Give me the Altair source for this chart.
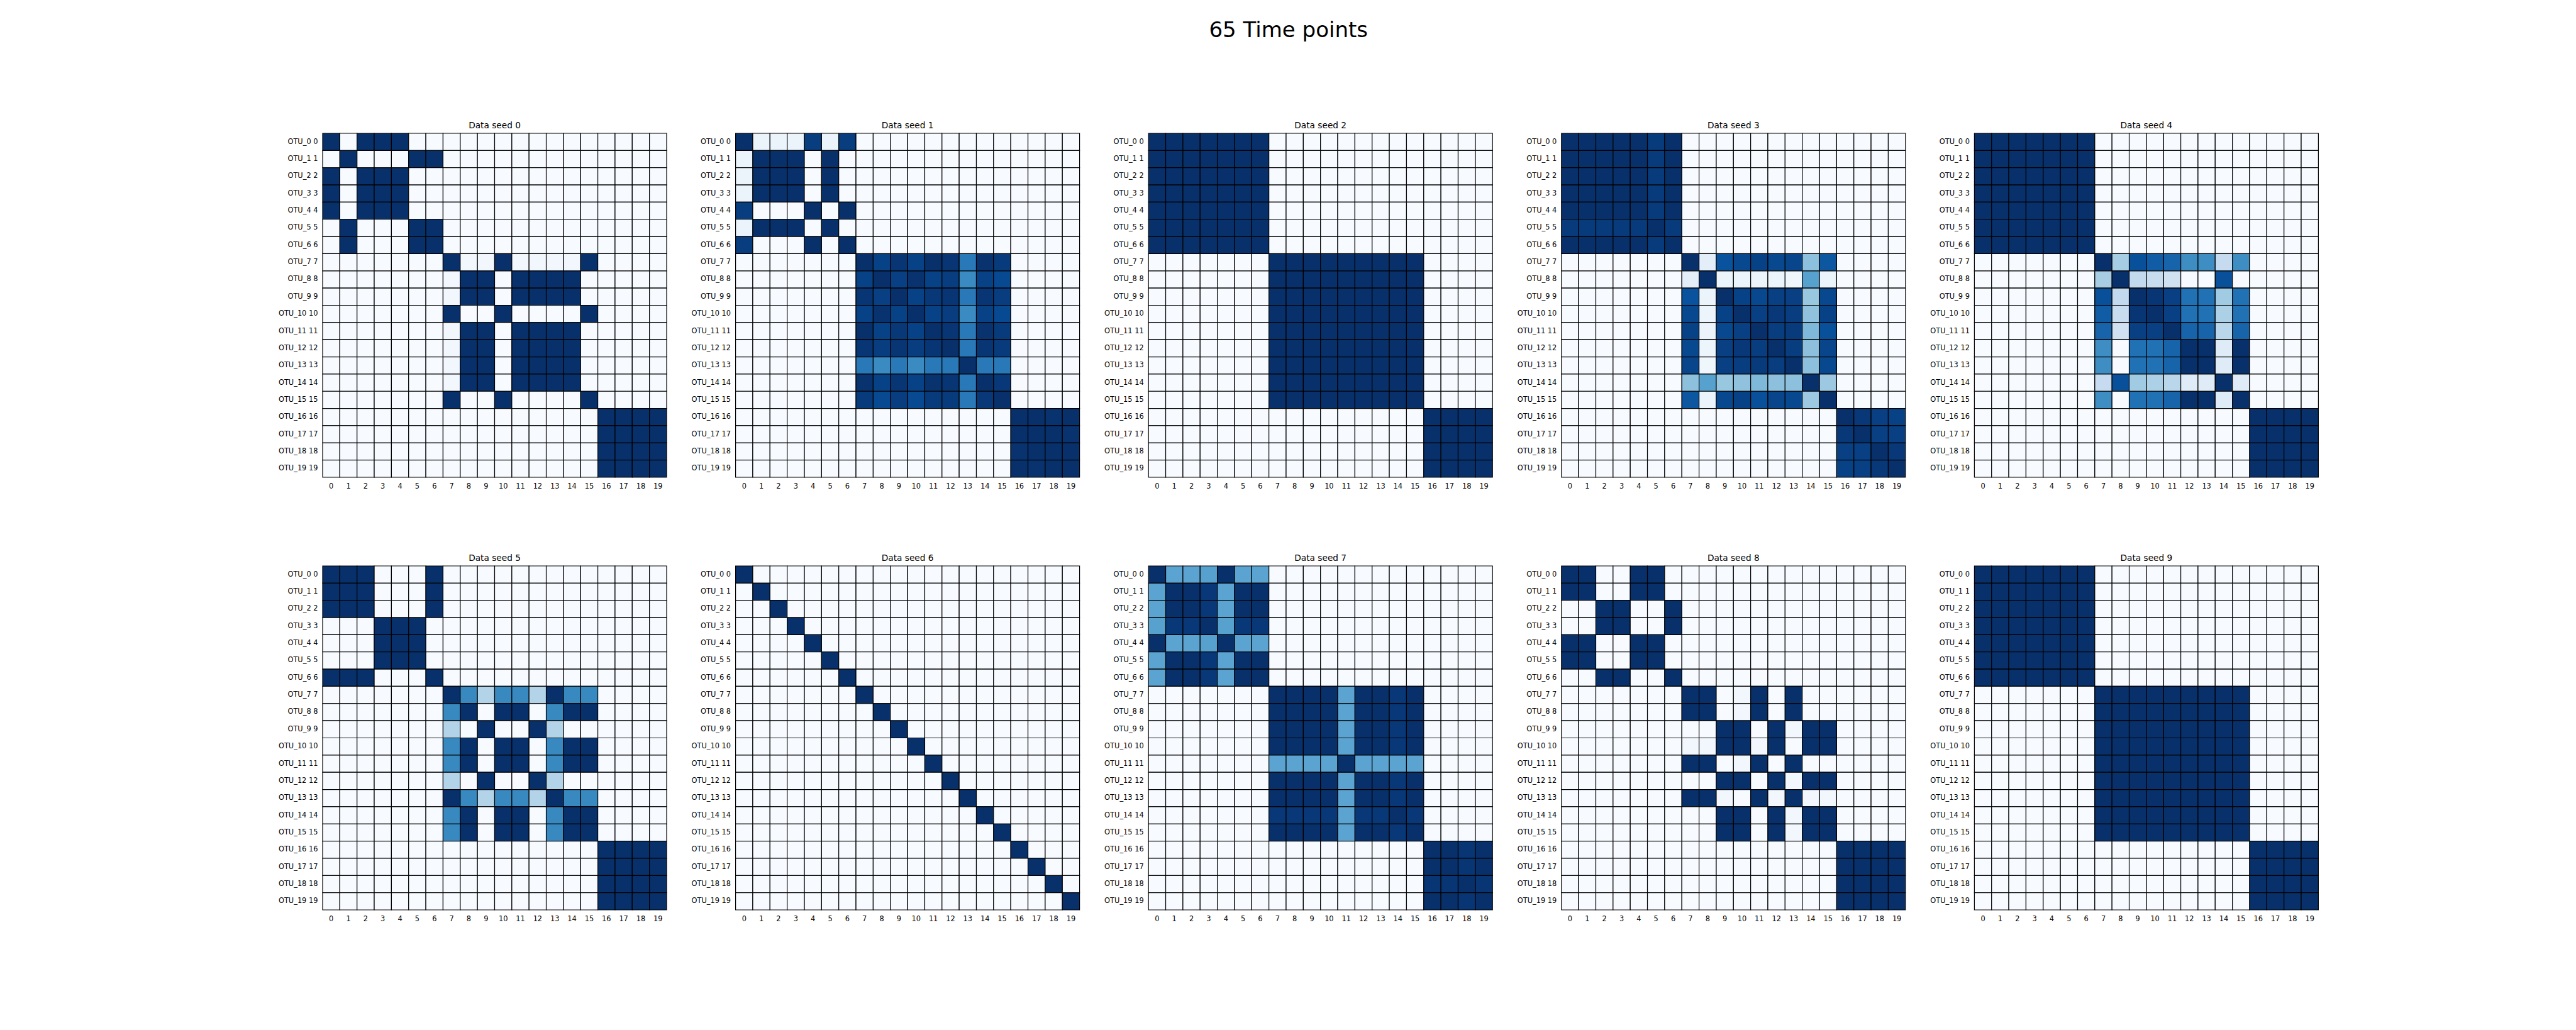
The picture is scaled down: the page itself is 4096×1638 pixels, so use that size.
import altair as alt
import pandas as pd

SUPTITLE = "65 Time points"
PANEL_TITLES = ["Data seed 0", "Data seed 1", "Data seed 2", "Data seed 3", "Data seed 4",
                "Data seed 5", "Data seed 6", "Data seed 7", "Data seed 8", "Data seed 9"]
ROW_LABELS = ["OTU_0 0", "OTU_1 1", "OTU_2 2", "OTU_3 3", "OTU_4 4", "OTU_5 5", "OTU_6 6",
              "OTU_7 7", "OTU_8 8", "OTU_9 9", "OTU_10 10", "OTU_11 11", "OTU_12 12",
              "OTU_13 13", "OTU_14 14", "OTU_15 15", "OTU_16 16", "OTU_17 17", "OTU_18 18",
              "OTU_19 19"]
COL_LABELS = ["0", "1", "2", "3", "4", "5", "6", "7", "8", "9", "10", "11", "12", "13",
              "14", "15", "16", "17", "18", "19"]

# matplotlib "Blues" colormap stops
BLUES_STOPS = [0, 0.125, 0.25, 0.375, 0.5, 0.625, 0.75, 0.875, 1]
BLUES_COLORS = ["#f7fbff", "#deebf7", "#c6dbef", "#9ecae1", "#6baed6",
                "#4292c6", "#2171b5", "#08519c", "#08306b"]

SEED_0 = [
    [1, 0, 1, 1, 1, 0, 0, 0, 0, 0, 0, 0, 0, 0, 0, 0, 0, 0, 0, 0],
    [0, 1, 0, 0, 0, 1, 1, 0, 0, 0, 0, 0, 0, 0, 0, 0, 0, 0, 0, 0],
    [1, 0, 1, 1, 1, 0, 0, 0, 0, 0, 0, 0, 0, 0, 0, 0, 0, 0, 0, 0],
    [1, 0, 1, 1, 1, 0, 0, 0, 0, 0, 0, 0, 0, 0, 0, 0, 0, 0, 0, 0],
    [1, 0, 1, 1, 1, 0, 0, 0, 0, 0, 0, 0, 0, 0, 0, 0, 0, 0, 0, 0],
    [0, 1, 0, 0, 0, 1, 1, 0, 0, 0, 0, 0, 0, 0, 0, 0, 0, 0, 0, 0],
    [0, 1, 0, 0, 0, 1, 1, 0, 0, 0, 0, 0, 0, 0, 0, 0, 0, 0, 0, 0],
    [0, 0, 0, 0, 0, 0, 0, 1, .03, .03, 1, .03, .03, .03, .03, 1, 0, 0, 0, 0],
    [0, 0, 0, 0, 0, 0, 0, .03, 1, 1, 0, 1, 1, 1, 1, 0, 0, 0, 0, 0],
    [0, 0, 0, 0, 0, 0, 0, .03, 1, 1, 0, 1, 1, 1, 1, 0, 0, 0, 0, 0],
    [0, 0, 0, 0, 0, 0, 0, 1, 0, 0, 1, 0, 0, 0, 0, 1, 0, 0, 0, 0],
    [0, 0, 0, 0, 0, 0, 0, .03, 1, 1, 0, 1, 1, 1, 1, 0, 0, 0, 0, 0],
    [0, 0, 0, 0, 0, 0, 0, .03, 1, 1, 0, 1, 1, 1, 1, 0, 0, 0, 0, 0],
    [0, 0, 0, 0, 0, 0, 0, .03, 1, 1, 0, 1, 1, 1, 1, 0, 0, 0, 0, 0],
    [0, 0, 0, 0, 0, 0, 0, .03, 1, 1, 0, 1, 1, 1, 1, 0, 0, 0, 0, 0],
    [0, 0, 0, 0, 0, 0, 0, 1, 0, 0, 1, 0, 0, 0, 0, 1, 0, 0, 0, 0],
    [0, 0, 0, 0, 0, 0, 0, 0, 0, 0, 0, 0, 0, 0, 0, 0, 1, 1, 1, 1],
    [0, 0, 0, 0, 0, 0, 0, 0, 0, 0, 0, 0, 0, 0, 0, 0, 1, 1, 1, 1],
    [0, 0, 0, 0, 0, 0, 0, 0, 0, 0, 0, 0, 0, 0, 0, 0, 1, 1, 1, 1],
    [0, 0, 0, 0, 0, 0, 0, 0, 0, 0, 0, 0, 0, 0, 0, 0, 1, 1, 1, 1],
]

SEED_1 = [
    [1, .06, .06, .06, .95, .06, .95, 0, 0, 0, 0, 0, 0, 0, 0, 0, 0, 0, 0, 0],
    [.06, 1, 1, 1, 0, 1, 0, 0, 0, 0, 0, 0, 0, 0, 0, 0, 0, 0, 0, 0],
    [.06, 1, 1, 1, 0, 1, 0, 0, 0, 0, 0, 0, 0, 0, 0, 0, 0, 0, 0, 0],
    [.06, 1, 1, 1, 0, 1, 0, 0, 0, 0, 0, 0, 0, 0, 0, 0, 0, 0, 0, 0],
    [.95, 0, 0, 0, 1, 0, 1, 0, 0, 0, 0, 0, 0, 0, 0, 0, 0, 0, 0, 0],
    [.06, 1, 1, 1, 0, 1, 0, 0, 0, 0, 0, 0, 0, 0, 0, 0, 0, 0, 0, 0],
    [.95, 0, 0, 0, 1, 0, 1, 0, 0, 0, 0, 0, 0, 0, 0, 0, 0, 0, 0, 0],
    [0, 0, 0, 0, 0, 0, 0, 1, .93, .98, .93, 1, .98, .72, .99, .96, 0, 0, 0, 0],
    [0, 0, 0, 0, 0, 0, 0, .93, 1, .94, .99, .93, .95, .65, .93, .90, 0, 0, 0, 0],
    [0, 0, 0, 0, 0, 0, 0, .98, .94, 1, .93, .97, .98, .72, .98, .95, 0, 0, 0, 0],
    [0, 0, 0, 0, 0, 0, 0, .93, .99, .93, 1, .93, .95, .65, .93, .90, 0, 0, 0, 0],
    [0, 0, 0, 0, 0, 0, 0, 1, .93, .97, .93, 1, .98, .72, .99, .96, 0, 0, 0, 0],
    [0, 0, 0, 0, 0, 0, 0, .98, .95, .98, .95, .98, 1, .72, .98, .96, 0, 0, 0, 0],
    [0, 0, 0, 0, 0, 0, 0, .72, .65, .72, .65, .72, .72, 1, .72, .72, 0, 0, 0, 0],
    [0, 0, 0, 0, 0, 0, 0, .99, .93, .98, .93, .99, .98, .72, 1, .97, 0, 0, 0, 0],
    [0, 0, 0, 0, 0, 0, 0, .96, .90, .95, .90, .96, .96, .72, .97, 1, 0, 0, 0, 0],
    [0, 0, 0, 0, 0, 0, 0, 0, 0, 0, 0, 0, 0, 0, 0, 0, 1, 1, .99, 1],
    [0, 0, 0, 0, 0, 0, 0, 0, 0, 0, 0, 0, 0, 0, 0, 0, 1, 1, 1, .99],
    [0, 0, 0, 0, 0, 0, 0, 0, 0, 0, 0, 0, 0, 0, 0, 0, .99, 1, 1, 1],
    [0, 0, 0, 0, 0, 0, 0, 0, 0, 0, 0, 0, 0, 0, 0, 0, 1, .99, 1, 1],
]

SEED_2 = [
    [1, 1, 1, 1, 1, 1, 1, 0, 0, 0, 0, 0, 0, 0, 0, 0, 0, 0, 0, 0],
    [1, 1, 1, 1, 1, 1, 1, 0, 0, 0, 0, 0, 0, 0, 0, 0, 0, 0, 0, 0],
    [1, 1, 1, 1, 1, 1, 1, 0, 0, 0, 0, 0, 0, 0, 0, 0, 0, 0, 0, 0],
    [1, 1, 1, 1, 1, 1, 1, 0, 0, 0, 0, 0, 0, 0, 0, 0, 0, 0, 0, 0],
    [1, 1, 1, 1, 1, 1, 1, 0, 0, 0, 0, 0, 0, 0, 0, 0, 0, 0, 0, 0],
    [1, 1, 1, 1, 1, 1, 1, 0, 0, 0, 0, 0, 0, 0, 0, 0, 0, 0, 0, 0],
    [1, 1, 1, 1, 1, 1, 1, 0, 0, 0, 0, 0, 0, 0, 0, 0, 0, 0, 0, 0],
    [0, 0, 0, 0, 0, 0, 0, 1, 1, 1, 1, 1, 1, 1, 1, 1, 0, 0, 0, 0],
    [0, 0, 0, 0, 0, 0, 0, 1, 1, 1, 1, 1, 1, 1, 1, 1, 0, 0, 0, 0],
    [0, 0, 0, 0, 0, 0, 0, 1, 1, 1, 1, 1, 1, 1, 1, 1, 0, 0, 0, 0],
    [0, 0, 0, 0, 0, 0, 0, 1, 1, 1, 1, 1, 1, 1, 1, 1, 0, 0, 0, 0],
    [0, 0, 0, 0, 0, 0, 0, 1, 1, 1, 1, 1, 1, 1, 1, 1, 0, 0, 0, 0],
    [0, 0, 0, 0, 0, 0, 0, 1, 1, 1, 1, 1, 1, 1, 1, 1, 0, 0, 0, 0],
    [0, 0, 0, 0, 0, 0, 0, 1, 1, 1, 1, 1, 1, 1, 1, 1, 0, 0, 0, 0],
    [0, 0, 0, 0, 0, 0, 0, 1, 1, 1, 1, 1, 1, 1, 1, 1, 0, 0, 0, 0],
    [0, 0, 0, 0, 0, 0, 0, 1, 1, 1, 1, 1, 1, 1, 1, 1, 0, 0, 0, 0],
    [0, 0, 0, 0, 0, 0, 0, 0, 0, 0, 0, 0, 0, 0, 0, 0, 1, 1, 1, 1],
    [0, 0, 0, 0, 0, 0, 0, 0, 0, 0, 0, 0, 0, 0, 0, 0, 1, 1, 1, 1],
    [0, 0, 0, 0, 0, 0, 0, 0, 0, 0, 0, 0, 0, 0, 0, 0, 1, 1, 1, 1],
    [0, 0, 0, 0, 0, 0, 0, 0, 0, 0, 0, 0, 0, 0, 0, 0, 1, 1, 1, 1],
]

SEED_3 = [
    [1, 1, 1, 1, 1, .96, 1, 0, 0, 0, 0, 0, 0, 0, 0, 0, 0, 0, 0, 0],
    [1, 1, 1, 1, 1, .96, 1, 0, 0, 0, 0, 0, 0, 0, 0, 0, 0, 0, 0, 0],
    [1, 1, 1, 1, 1, .96, 1, 0, 0, 0, 0, 0, 0, 0, 0, 0, 0, 0, 0, 0],
    [1, 1, 1, 1, 1, .96, 1, 0, 0, 0, 0, 0, 0, 0, 0, 0, 0, 0, 0, 0],
    [1, 1, 1, 1, 1, .96, 1, 0, 0, 0, 0, 0, 0, 0, 0, 0, 0, 0, 0, 0],
    [.96, .96, .96, .96, .96, 1, .96, 0, 0, 0, 0, 0, 0, 0, 0, 0, 0, 0, 0, 0],
    [1, 1, 1, 1, 1, .96, 1, 0, 0, 0, 0, 0, 0, 0, 0, 0, 0, 0, 0, 0],
    [0, 0, 0, 0, 0, 0, 0, 1, .10, .87, .91, .93, .91, .92, .42, .85, 0, 0, 0, 0],
    [0, 0, 0, 0, 0, 0, 0, .10, 1, .06, .05, .06, .05, .04, .56, .06, 0, 0, 0, 0],
    [0, 0, 0, 0, 0, 0, 0, .87, .06, 1, .93, .91, .94, .94, .39, .91, 0, 0, 0, 0],
    [0, 0, 0, 0, 0, 0, 0, .91, .05, .93, 1, .94, .97, .95, .41, .93, 0, 0, 0, 0],
    [0, 0, 0, 0, 0, 0, 0, .93, .06, .91, .94, 1, .95, .96, .45, .88, 0, 0, 0, 0],
    [0, 0, 0, 0, 0, 0, 0, .91, .05, .94, .97, .95, 1, .95, .42, .92, 0, 0, 0, 0],
    [0, 0, 0, 0, 0, 0, 0, .92, .04, .94, .95, .96, .95, 1, .42, .91, 0, 0, 0, 0],
    [0, 0, 0, 0, 0, 0, 0, .42, .56, .39, .41, .45, .42, .42, 1, .38, 0, 0, 0, 0],
    [0, 0, 0, 0, 0, 0, 0, .85, .06, .91, .93, .88, .92, .91, .38, 1, 0, 0, 0, 0],
    [0, 0, 0, 0, 0, 0, 0, 0, 0, 0, 0, 0, 0, 0, 0, 0, 1, .97, .94, .93],
    [0, 0, 0, 0, 0, 0, 0, 0, 0, 0, 0, 0, 0, 0, 0, 0, .97, 1, .94, .94],
    [0, 0, 0, 0, 0, 0, 0, 0, 0, 0, 0, 0, 0, 0, 0, 0, .94, .94, 1, .97],
    [0, 0, 0, 0, 0, 0, 0, 0, 0, 0, 0, 0, 0, 0, 0, 0, .93, .94, .97, 1],
]

SEED_4 = [
    [1, 1, 1, 1, 1, 1, 1, 0, 0, 0, 0, 0, 0, 0, 0, 0, 0, 0, 0, 0],
    [1, 1, 1, 1, 1, 1, 1, 0, 0, 0, 0, 0, 0, 0, 0, 0, 0, 0, 0, 0],
    [1, 1, 1, 1, 1, 1, 1, 0, 0, 0, 0, 0, 0, 0, 0, 0, 0, 0, 0, 0],
    [1, 1, 1, 1, 1, 1, 1, 0, 0, 0, 0, 0, 0, 0, 0, 0, 0, 0, 0, 0],
    [1, 1, 1, 1, 1, 1, 1, 0, 0, 0, 0, 0, 0, 0, 0, 0, 0, 0, 0, 0],
    [1, 1, 1, 1, 1, 1, 1, 0, 0, 0, 0, 0, 0, 0, 0, 0, 0, 0, 0, 0],
    [1, 1, 1, 1, 1, 1, 1, 0, 0, 0, 0, 0, 0, 0, 0, 0, 0, 0, 0, 0],
    [0, 0, 0, 0, 0, 0, 0, 1, .35, .88, .83, .80, .64, .64, .25, .64, 0, 0, 0, 0],
    [0, 0, 0, 0, 0, 0, 0, .35, 1, .26, .24, .20, 0, 0, .88, 0, 0, 0, 0, 0],
    [0, 0, 0, 0, 0, 0, 0, .88, .26, 1, .98, .94, .75, .75, .37, .75, 0, 0, 0, 0],
    [0, 0, 0, 0, 0, 0, 0, .83, .24, .98, 1, .94, .75, .75, .33, .75, 0, 0, 0, 0],
    [0, 0, 0, 0, 0, 0, 0, .80, .20, .94, .94, 1, .80, .80, .29, .80, 0, 0, 0, 0],
    [0, 0, 0, 0, 0, 0, 0, .64, 0, .75, .75, .80, 1, 1, .12, 1, 0, 0, 0, 0],
    [0, 0, 0, 0, 0, 0, 0, .64, 0, .75, .75, .80, 1, 1, .12, 1, 0, 0, 0, 0],
    [0, 0, 0, 0, 0, 0, 0, .25, .88, .37, .33, .29, .12, .12, 1, .12, 0, 0, 0, 0],
    [0, 0, 0, 0, 0, 0, 0, .64, 0, .75, .75, .80, 1, 1, .12, 1, 0, 0, 0, 0],
    [0, 0, 0, 0, 0, 0, 0, 0, 0, 0, 0, 0, 0, 0, 0, 0, 1, 1, 1, 1],
    [0, 0, 0, 0, 0, 0, 0, 0, 0, 0, 0, 0, 0, 0, 0, 0, 1, 1, 1, 1],
    [0, 0, 0, 0, 0, 0, 0, 0, 0, 0, 0, 0, 0, 0, 0, 0, 1, 1, 1, 1],
    [0, 0, 0, 0, 0, 0, 0, 0, 0, 0, 0, 0, 0, 0, 0, 0, 1, 1, 1, 1],
]

SEED_5 = [
    [1, 1, 1, 0, 0, 0, 1, 0, 0, 0, 0, 0, 0, 0, 0, 0, 0, 0, 0, 0],
    [1, 1, 1, 0, 0, 0, 1, 0, 0, 0, 0, 0, 0, 0, 0, 0, 0, 0, 0, 0],
    [1, 1, 1, 0, 0, 0, 1, 0, 0, 0, 0, 0, 0, 0, 0, 0, 0, 0, 0, 0],
    [0, 0, 0, 1, 1, 1, 0, 0, 0, 0, 0, 0, 0, 0, 0, 0, 0, 0, 0, 0],
    [0, 0, 0, 1, 1, 1, 0, 0, 0, 0, 0, 0, 0, 0, 0, 0, 0, 0, 0, 0],
    [0, 0, 0, 1, 1, 1, 0, 0, 0, 0, 0, 0, 0, 0, 0, 0, 0, 0, 0, 0],
    [1, 1, 1, 0, 0, 0, 1, 0, 0, 0, 0, 0, 0, 0, 0, 0, 0, 0, 0, 0],
    [0, 0, 0, 0, 0, 0, 0, 1, .66, .31, .66, .66, .31, 1, .66, .66, 0, 0, 0, 0],
    [0, 0, 0, 0, 0, 0, 0, .66, 1, 0, 1, 1, 0, .66, 1, 1, 0, 0, 0, 0],
    [0, 0, 0, 0, 0, 0, 0, .31, 0, 1, 0, 0, 1, .31, 0, 0, 0, 0, 0, 0],
    [0, 0, 0, 0, 0, 0, 0, .66, 1, 0, 1, 1, 0, .66, 1, 1, 0, 0, 0, 0],
    [0, 0, 0, 0, 0, 0, 0, .66, 1, 0, 1, 1, 0, .66, 1, 1, 0, 0, 0, 0],
    [0, 0, 0, 0, 0, 0, 0, .31, 0, 1, 0, 0, 1, .31, 0, 0, 0, 0, 0, 0],
    [0, 0, 0, 0, 0, 0, 0, 1, .66, .31, .66, .66, .31, 1, .66, .66, 0, 0, 0, 0],
    [0, 0, 0, 0, 0, 0, 0, .66, 1, 0, 1, 1, 0, .66, 1, 1, 0, 0, 0, 0],
    [0, 0, 0, 0, 0, 0, 0, .66, 1, 0, 1, 1, 0, .66, 1, 1, 0, 0, 0, 0],
    [0, 0, 0, 0, 0, 0, 0, 0, 0, 0, 0, 0, 0, 0, 0, 0, 1, 1, 1, 1],
    [0, 0, 0, 0, 0, 0, 0, 0, 0, 0, 0, 0, 0, 0, 0, 0, 1, 1, 1, 1],
    [0, 0, 0, 0, 0, 0, 0, 0, 0, 0, 0, 0, 0, 0, 0, 0, 1, 1, 1, 1],
    [0, 0, 0, 0, 0, 0, 0, 0, 0, 0, 0, 0, 0, 0, 0, 0, 1, 1, 1, 1],
]

SEED_6 = [
    [1, 0, 0, 0, 0, 0, 0, 0, 0, 0, 0, 0, 0, 0, 0, 0, 0, 0, 0, 0],
    [0, 1, 0, 0, 0, 0, 0, 0, 0, 0, 0, 0, 0, 0, 0, 0, 0, 0, 0, 0],
    [0, 0, 1, 0, 0, 0, 0, 0, 0, 0, 0, 0, 0, 0, 0, 0, 0, 0, 0, 0],
    [0, 0, 0, 1, 0, 0, 0, 0, 0, 0, 0, 0, 0, 0, 0, 0, 0, 0, 0, 0],
    [0, 0, 0, 0, 1, 0, 0, 0, 0, 0, 0, 0, 0, 0, 0, 0, 0, 0, 0, 0],
    [0, 0, 0, 0, 0, 1, 0, 0, 0, 0, 0, 0, 0, 0, 0, 0, 0, 0, 0, 0],
    [0, 0, 0, 0, 0, 0, 1, 0, 0, 0, 0, 0, 0, 0, 0, 0, 0, 0, 0, 0],
    [0, 0, 0, 0, 0, 0, 0, 1, 0, 0, 0, 0, 0, 0, 0, 0, 0, 0, 0, 0],
    [0, 0, 0, 0, 0, 0, 0, 0, 1, 0, 0, 0, 0, 0, 0, 0, 0, 0, 0, 0],
    [0, 0, 0, 0, 0, 0, 0, 0, 0, 1, 0, 0, 0, 0, 0, 0, 0, 0, 0, 0],
    [0, 0, 0, 0, 0, 0, 0, 0, 0, 0, 1, 0, 0, 0, 0, 0, 0, 0, 0, 0],
    [0, 0, 0, 0, 0, 0, 0, 0, 0, 0, 0, 1, 0, 0, 0, 0, 0, 0, 0, 0],
    [0, 0, 0, 0, 0, 0, 0, 0, 0, 0, 0, 0, 1, 0, 0, 0, 0, 0, 0, 0],
    [0, 0, 0, 0, 0, 0, 0, 0, 0, 0, 0, 0, 0, 1, 0, 0, 0, 0, 0, 0],
    [0, 0, 0, 0, 0, 0, 0, 0, 0, 0, 0, 0, 0, 0, 1, 0, 0, 0, 0, 0],
    [0, 0, 0, 0, 0, 0, 0, 0, 0, 0, 0, 0, 0, 0, 0, 1, 0, 0, 0, 0],
    [0, 0, 0, 0, 0, 0, 0, 0, 0, 0, 0, 0, 0, 0, 0, 0, 1, 0, 0, 0],
    [0, 0, 0, 0, 0, 0, 0, 0, 0, 0, 0, 0, 0, 0, 0, 0, 0, 1, 0, 0],
    [0, 0, 0, 0, 0, 0, 0, 0, 0, 0, 0, 0, 0, 0, 0, 0, 0, 0, 1, 0],
    [0, 0, 0, 0, 0, 0, 0, 0, 0, 0, 0, 0, 0, 0, 0, 0, 0, 0, 0, 1],
]

SEED_7 = [
    [1, .55, .55, .56, 1, .55, .55, 0, 0, 0, 0, 0, 0, 0, 0, 0, 0, 0, 0, 0],
    [.55, 1, 1, .97, .55, 1, 1, 0, 0, 0, 0, 0, 0, 0, 0, 0, 0, 0, 0, 0],
    [.55, 1, 1, .97, .55, 1, 1, 0, 0, 0, 0, 0, 0, 0, 0, 0, 0, 0, 0, 0],
    [.56, .97, .97, 1, .56, .97, .97, 0, 0, 0, 0, 0, 0, 0, 0, 0, 0, 0, 0, 0],
    [1, .55, .55, .56, 1, .55, .55, 0, 0, 0, 0, 0, 0, 0, 0, 0, 0, 0, 0, 0],
    [.55, 1, 1, .97, .55, 1, 1, 0, 0, 0, 0, 0, 0, 0, 0, 0, 0, 0, 0, 0],
    [.55, 1, 1, .97, .55, 1, 1, 0, 0, 0, 0, 0, 0, 0, 0, 0, 0, 0, 0, 0],
    [0, 0, 0, 0, 0, 0, 0, 1, 1, 1, 1, .55, 1, 1, .97, 1, 0, 0, 0, 0],
    [0, 0, 0, 0, 0, 0, 0, 1, 1, 1, 1, .55, 1, 1, .97, 1, 0, 0, 0, 0],
    [0, 0, 0, 0, 0, 0, 0, 1, 1, 1, 1, .55, 1, 1, .97, 1, 0, 0, 0, 0],
    [0, 0, 0, 0, 0, 0, 0, 1, 1, 1, 1, .55, 1, 1, .97, 1, 0, 0, 0, 0],
    [0, 0, 0, 0, 0, 0, 0, .55, .55, .55, .55, 1, .55, .55, .55, .55, 0, 0, 0, 0],
    [0, 0, 0, 0, 0, 0, 0, 1, 1, 1, 1, .55, 1, 1, .97, 1, 0, 0, 0, 0],
    [0, 0, 0, 0, 0, 0, 0, 1, 1, 1, 1, .55, 1, 1, .97, 1, 0, 0, 0, 0],
    [0, 0, 0, 0, 0, 0, 0, .97, .97, .97, .97, .55, .97, .97, 1, .97, 0, 0, 0, 0],
    [0, 0, 0, 0, 0, 0, 0, 1, 1, 1, 1, .55, 1, 1, .97, 1, 0, 0, 0, 0],
    [0, 0, 0, 0, 0, 0, 0, 0, 0, 0, 0, 0, 0, 0, 0, 0, 1, 1, .98, 1],
    [0, 0, 0, 0, 0, 0, 0, 0, 0, 0, 0, 0, 0, 0, 0, 0, 1, 1, .98, 1],
    [0, 0, 0, 0, 0, 0, 0, 0, 0, 0, 0, 0, 0, 0, 0, 0, .98, .98, 1, .98],
    [0, 0, 0, 0, 0, 0, 0, 0, 0, 0, 0, 0, 0, 0, 0, 0, 1, 1, .98, 1],
]

SEED_8 = [
    [1, 1, 0, 0, 1, 1, 0, 0, 0, 0, 0, 0, 0, 0, 0, 0, 0, 0, 0, 0],
    [1, 1, 0, 0, 1, 1, 0, 0, 0, 0, 0, 0, 0, 0, 0, 0, 0, 0, 0, 0],
    [0, 0, 1, 1, 0, 0, 1, 0, 0, 0, 0, 0, 0, 0, 0, 0, 0, 0, 0, 0],
    [0, 0, 1, 1, 0, 0, 1, 0, 0, 0, 0, 0, 0, 0, 0, 0, 0, 0, 0, 0],
    [1, 1, 0, 0, 1, 1, 0, 0, 0, 0, 0, 0, 0, 0, 0, 0, 0, 0, 0, 0],
    [1, 1, 0, 0, 1, 1, 0, 0, 0, 0, 0, 0, 0, 0, 0, 0, 0, 0, 0, 0],
    [0, 0, 1, 1, 0, 0, 1, 0, 0, 0, 0, 0, 0, 0, 0, 0, 0, 0, 0, 0],
    [0, 0, 0, 0, 0, 0, 0, 1, 1, 0, .03, 1, 0, 1, 0, 0, 0, 0, 0, 0],
    [0, 0, 0, 0, 0, 0, 0, 1, 1, 0, .03, 1, 0, 1, 0, 0, 0, 0, 0, 0],
    [0, 0, 0, 0, 0, 0, 0, 0, 0, 1, 1, 0, 1, .03, 1, 1, 0, 0, 0, 0],
    [0, 0, 0, 0, 0, 0, 0, .03, .03, 1, 1, .03, 1, 0, 1, 1, 0, 0, 0, 0],
    [0, 0, 0, 0, 0, 0, 0, 1, 1, 0, .03, 1, 0, 1, 0, 0, 0, 0, 0, 0],
    [0, 0, 0, 0, 0, 0, 0, 0, 0, 1, 1, 0, 1, .03, 1, 1, 0, 0, 0, 0],
    [0, 0, 0, 0, 0, 0, 0, 1, 1, .03, 0, 1, .03, 1, .03, .03, 0, 0, 0, 0],
    [0, 0, 0, 0, 0, 0, 0, 0, 0, 1, 1, 0, 1, .03, 1, 1, 0, 0, 0, 0],
    [0, 0, 0, 0, 0, 0, 0, 0, 0, 1, 1, 0, 1, .03, 1, 1, 0, 0, 0, 0],
    [0, 0, 0, 0, 0, 0, 0, 0, 0, 0, 0, 0, 0, 0, 0, 0, 1, 1, 1, 1],
    [0, 0, 0, 0, 0, 0, 0, 0, 0, 0, 0, 0, 0, 0, 0, 0, 1, 1, 1, 1],
    [0, 0, 0, 0, 0, 0, 0, 0, 0, 0, 0, 0, 0, 0, 0, 0, 1, 1, 1, 1],
    [0, 0, 0, 0, 0, 0, 0, 0, 0, 0, 0, 0, 0, 0, 0, 0, 1, 1, 1, 1],
]

SEED_9 = [
    [1, 1, 1, 1, 1, 1, 1, 0, 0, 0, 0, 0, 0, 0, 0, 0, 0, 0, 0, 0],
    [1, 1, 1, 1, 1, 1, 1, 0, 0, 0, 0, 0, 0, 0, 0, 0, 0, 0, 0, 0],
    [1, 1, 1, 1, 1, 1, 1, 0, 0, 0, 0, 0, 0, 0, 0, 0, 0, 0, 0, 0],
    [1, 1, 1, 1, 1, 1, 1, 0, 0, 0, 0, 0, 0, 0, 0, 0, 0, 0, 0, 0],
    [1, 1, 1, 1, 1, 1, 1, 0, 0, 0, 0, 0, 0, 0, 0, 0, 0, 0, 0, 0],
    [1, 1, 1, 1, 1, 1, 1, 0, 0, 0, 0, 0, 0, 0, 0, 0, 0, 0, 0, 0],
    [1, 1, 1, 1, 1, 1, 1, 0, 0, 0, 0, 0, 0, 0, 0, 0, 0, 0, 0, 0],
    [0, 0, 0, 0, 0, 0, 0, 1, 1, 1, 1, 1, 1, 1, 1, 1, 0, 0, 0, 0],
    [0, 0, 0, 0, 0, 0, 0, 1, 1, 1, 1, 1, 1, 1, 1, 1, 0, 0, 0, 0],
    [0, 0, 0, 0, 0, 0, 0, 1, 1, 1, 1, 1, 1, 1, 1, 1, 0, 0, 0, 0],
    [0, 0, 0, 0, 0, 0, 0, 1, 1, 1, 1, 1, 1, 1, 1, 1, 0, 0, 0, 0],
    [0, 0, 0, 0, 0, 0, 0, 1, 1, 1, 1, 1, 1, 1, 1, 1, 0, 0, 0, 0],
    [0, 0, 0, 0, 0, 0, 0, 1, 1, 1, 1, 1, 1, 1, 1, 1, 0, 0, 0, 0],
    [0, 0, 0, 0, 0, 0, 0, 1, 1, 1, 1, 1, 1, 1, 1, 1, 0, 0, 0, 0],
    [0, 0, 0, 0, 0, 0, 0, 1, 1, 1, 1, 1, 1, 1, 1, 1, 0, 0, 0, 0],
    [0, 0, 0, 0, 0, 0, 0, 1, 1, 1, 1, 1, 1, 1, 1, 1, 0, 0, 0, 0],
    [0, 0, 0, 0, 0, 0, 0, 0, 0, 0, 0, 0, 0, 0, 0, 0, 1, 1, 1, 1],
    [0, 0, 0, 0, 0, 0, 0, 0, 0, 0, 0, 0, 0, 0, 0, 0, 1, 1, 1, 1],
    [0, 0, 0, 0, 0, 0, 0, 0, 0, 0, 0, 0, 0, 0, 0, 0, 1, 1, 1, 1],
    [0, 0, 0, 0, 0, 0, 0, 0, 0, 0, 0, 0, 0, 0, 0, 0, 1, 1, 1, 1],
]

SEEDS = [SEED_0, SEED_1, SEED_2, SEED_3, SEED_4, SEED_5, SEED_6, SEED_7, SEED_8, SEED_9]

# ---- layout (already scaled to 0.819 of the 5000x2000 reference) ----
FONT = "DejaVu Sans"
PANEL = 547
COL_GAP = 109.6
ROW_GAP = 141
LABEL_SIZE = 11.4
PANEL_TITLE_SIZE = 13.7
SUPTITLE_SIZE = 34

records = []
for s, mat in enumerate(SEEDS):
    for i, row in enumerate(mat):
        for j, v in enumerate(row):
            records.append({"seed": s, "otu": ROW_LABELS[i], "col": COL_LABELS[j], "value": v})
df = pd.DataFrame(records)

color_scale = alt.Scale(domain=BLUES_STOPS, range=BLUES_COLORS, interpolate="rgb", clamp=True)


def panel(s):
    axis_common = dict(title=None, ticks=False, domain=False, labelPadding=8,
                       labelFontSize=LABEL_SIZE, labelFont=FONT, labelColor="black",
                       grid=False)
    return (
        alt.Chart(df[df["seed"] == s])
        .mark_rect(stroke="black", strokeWidth=1.2)
        .encode(
            x=alt.X("col:O", sort=COL_LABELS,
                    scale=alt.Scale(paddingInner=0, paddingOuter=0),
                    axis=alt.Axis(labelAngle=0, **axis_common)),
            y=alt.Y("otu:O", sort=ROW_LABELS,
                    scale=alt.Scale(paddingInner=0, paddingOuter=0),
                    axis=alt.Axis(**axis_common)),
            color=alt.Color("value:Q", scale=color_scale, legend=None),
        )
        .properties(
            width=PANEL, height=PANEL,
            title=alt.TitleParams(PANEL_TITLES[s], fontSize=PANEL_TITLE_SIZE, font=FONT,
                                  fontWeight="normal", color="black", anchor="middle",
                                  baseline="alphabetic", offset=6.8, dy=13, frame="group"),
        )
    )


chart = alt.ConcatChart(
    concat=[panel(s) for s in range(10)],
    columns=5,
    spacing={"row": ROW_GAP, "column": COL_GAP},
    bounds="flush",
    title=alt.TitleParams(SUPTITLE, fontSize=SUPTITLE_SIZE, font=FONT, fontWeight="normal",
                          color="black", anchor="middle", baseline="alphabetic",
                          offset=99, dx=-16),
).properties(
    padding={"left": 441, "top": 32, "right": 0, "bottom": 0},
    background="white",
).configure_view(stroke="transparent")

chart.save("out.html", embed_options={"renderer": "svg", "actions": False})
